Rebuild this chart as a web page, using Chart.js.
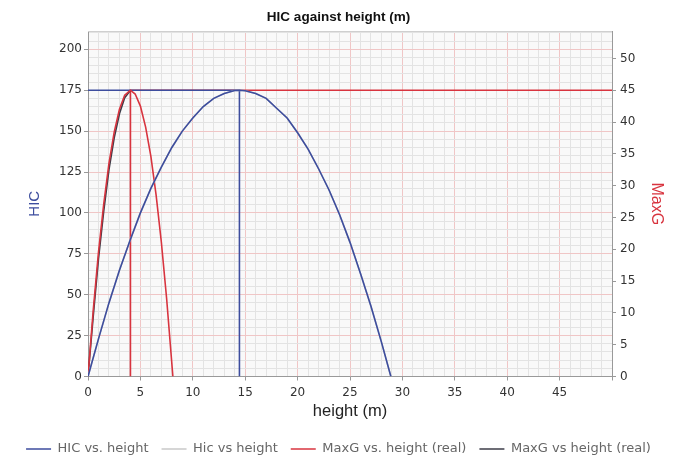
<!DOCTYPE html>
<html>
<head>
<meta charset="utf-8">
<script src="https://cdn.jsdelivr.net/npm/chart.js@4.4.1/dist/chart.umd.min.js"></script>
<style>
  html, body { margin: 0; padding: 0; background: #fff; }
</style>
</head>
<body>
<canvas id="hicChart" width="677" height="457"></canvas>
<script>
// blue curve, HIC against height
const hicHeights = [0, 1, 2, 3, 4, 5, 6, 7, 8, 9, 10, 11, 12, 13, 14, 14.45, 15, 16, 17, 18, 19, 20, 21, 22, 23, 24, 25, 26, 27, 28, 28.9];
const hicValues  = [0, 23, 45, 65, 83, 100, 115, 128, 140, 150, 158, 165, 170, 173, 174.8, 175, 174.7, 173, 170, 164, 158, 149, 139, 127, 114, 99, 82, 63, 43, 21, 0];

// red curve, MaxG against height
const maxgHeights = [0, 0.5, 1, 1.5, 2, 2.5, 3, 3.5, 4.05, 4.5, 5, 5.5, 6, 6.5, 7, 7.5, 8.1];
const maxgValues  = [0, 10.4, 19.5, 27.1, 33.5, 38.4, 42, 44.2, 45, 44.4, 42.5, 39.2, 34.6, 28.5, 21.1, 12.3, 0];

// dark "real" MaxG curve, mostly hidden under the red one
const maxgRealHeights = [0, 0.5, 1, 1.5, 2, 2.5, 3, 3.5, 4.05];
const maxgRealValues  = [0, 9.5, 18.5, 26, 32.5, 37.5, 41.3, 43.8, 45];

// peaks marked with guide lines
const hicPeak = { height: 14.45, value: 175 };
const maxgPeak = { height: 4.05, value: 45 };

// tick labels
const xTickLabels = [0, 5, 10, 15, 20, 25, 30, 35, 40, 45];
const hicTickLabels = [0, 25, 50, 75, 100, 125, 150, 175, 200];
const maxgTickLabels = [0, 5, 10, 15, 20, 25, 30, 35, 40, 45, 50];

const X_MAX = 50;
const HIC_MAX = 211.2;
const MAXG_MAX = 45 * HIC_MAX / 175; // both peaks sit on the same line

const BLUE = '#3d4d9e';
const RED = '#d8343f';
const GREY_LINE = '#c8c8c8';
const DARK = '#3c3c48';
const MAJOR_GRID = '#f0c6c6';
const MINOR_GRID = '#e3e3e3';

function toPoints(xs, ys) {
    return xs.map((x, i) => ({ x: x, y: ys[i] }));
}

function steps(max, step) {
    const out = [];
    for (let v = 0; v <= max + 1e-9; v += step) out.push({ value: v });
    return out;
}

const plotBackground = {
    id: 'plotBackground',
    beforeDraw(chart) {
        const { ctx, chartArea: a } = chart;
        ctx.save();
        ctx.fillStyle = '#f9f9f9';
        ctx.fillRect(a.left, a.top, a.right - a.left, a.bottom - a.top);
        ctx.restore();
    },
    afterDraw(chart) {
        const { ctx, chartArea: a } = chart;
        ctx.save();
        ctx.strokeStyle = '#cfcfcf';
        ctx.lineWidth = 1;
        ctx.beginPath();
        ctx.moveTo(a.left, a.top + 0.5);
        ctx.lineTo(a.right, a.top + 0.5);
        ctx.stroke();
        ctx.restore();
    }
};

const tickFont = { family: 'DejaVu Sans', size: 12 };

new Chart(document.getElementById('hicChart'), {
    type: 'line',
    data: {
        datasets: [
            { label: 'HIC vs. height', data: toPoints(hicHeights, hicValues), yAxisID: 'y',
              borderColor: BLUE, backgroundColor: BLUE, borderWidth: 1.6 },
            { label: 'Hic vs height', data: toPoints(hicHeights, hicValues), yAxisID: 'y',
              borderColor: GREY_LINE, backgroundColor: GREY_LINE, borderWidth: 1.6 },
            { label: 'MaxG vs. height (real)', data: toPoints(maxgHeights, maxgValues), yAxisID: 'y1',
              borderColor: RED, backgroundColor: RED, borderWidth: 1.6 },
            { label: 'MaxG vs height (real)', data: toPoints(maxgRealHeights, maxgRealValues), yAxisID: 'y1',
              borderColor: DARK, backgroundColor: DARK, borderWidth: 1.6 },
            // guide lines at the peaks
            { label: 'hic peak', data: [{ x: 0, y: hicPeak.value }, { x: hicPeak.height, y: hicPeak.value }, { x: hicPeak.height, y: 0 }],
              yAxisID: 'y', borderColor: BLUE, borderWidth: 1.6 },
            { label: 'maxg peak', data: [{ x: maxgPeak.height, y: 0 }, { x: maxgPeak.height, y: maxgPeak.value }, { x: X_MAX, y: maxgPeak.value }],
              yAxisID: 'y1', borderColor: RED, borderWidth: 1.6 }
        ]
    },
    options: {
        responsive: false,
        animation: false,
        events: [],
        elements: { point: { radius: 0 }, line: { tension: 0 } },
        layout: { padding: { top: 0, left: 0, right: 0, bottom: -8.5 } },
        plugins: {
            title: {
                display: true,
                text: 'HIC against height (m)',
                color: '#111',
                font: { family: 'Liberation Sans', size: 13.5, weight: 'bold', lineHeight: 1.2 },
                padding: { top: 9, bottom: 5.8 }
            },
            legend: {
                position: 'bottom',
                labels: {
                    filter: item => item.datasetIndex < 4,
                    usePointStyle: true,
                    pointStyle: 'line',
                    pointStyleWidth: 25,
                    color: '#666',
                    font: { family: 'DejaVu Sans', size: 13 },
                    padding: 13
                }
            },
            tooltip: { enabled: false }
        },
        scales: {
            x: {
                type: 'linear',
                min: 0,
                max: X_MAX,
                afterBuildTicks: s => { s.ticks = steps(X_MAX, 1); },
                afterFit: s => { s.height = 53; },
                ticks: {
                    autoSkip: false,
                    maxRotation: 0,
                    padding: 5.5,
                    color: '#333',
                    font: tickFont,
                    callback: v => xTickLabels.includes(v) ? v : ''
                },
                grid: {
                    color: c => c.tick && c.tick.value % 5 === 0 ? MAJOR_GRID : MINOR_GRID,
                    tickColor: c => c.tick && c.tick.value % 5 === 0 ? '#999' : 'rgba(0,0,0,0)',
                    tickLength: 4
                },
                border: { color: '#999' },
                title: {
                    display: true,
                    text: 'height (m)',
                    color: '#222',
                    font: { family: 'Liberation Sans', size: 16.5 },
                    padding: { top: 0, bottom: 8.6 }
                }
            },
            y: {
                position: 'left',
                min: 0,
                max: HIC_MAX,
                afterBuildTicks: s => { s.ticks = steps(210, 5); },
                afterFit: s => { s.width = 88; },
                ticks: {
                    autoSkip: false,
                    padding: 2,
                    color: '#333',
                    font: tickFont,
                    callback: v => hicTickLabels.includes(v) ? v : ''
                },
                grid: {
                    color: c => c.tick && c.tick.value % 25 === 0 ? MAJOR_GRID : MINOR_GRID,
                    tickColor: c => c.tick && c.tick.value % 25 === 0 ? '#999' : 'rgba(0,0,0,0)',
                    tickLength: 4
                },
                border: { color: '#999' },
                title: {
                    display: true,
                    text: 'HIC',
                    color: BLUE,
                    font: { family: 'Liberation Sans', size: 15 },
                    padding: { top: 26, bottom: 0 }
                }
            },
            y1: {
                position: 'right',
                min: 0,
                max: MAXG_MAX,
                afterBuildTicks: s => { s.ticks = maxgTickLabels.map(v => ({ value: v })); },
                afterFit: s => { s.width = 65; },
                ticks: {
                    autoSkip: false,
                    padding: 4,
                    color: '#333',
                    font: tickFont
                },
                grid: { drawOnChartArea: false, color: '#999', tickLength: 4 },
                border: { color: '#999' },
                title: {
                    display: true,
                    text: 'MaxG',
                    color: RED,
                    font: { family: 'Liberation Sans', size: 16 },
                    padding: { top: 11, bottom: 0 }
                }
            }
        }
    },
    plugins: [plotBackground]
});
</script>
</body>
</html>
